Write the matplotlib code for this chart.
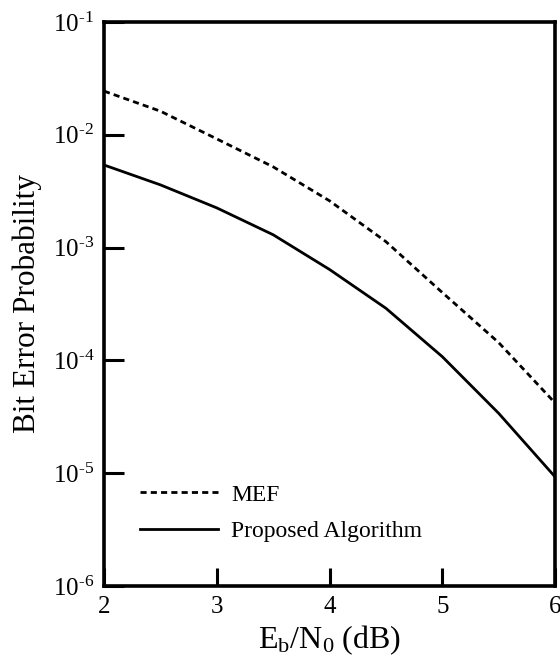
import matplotlib
matplotlib.use("Agg")
import matplotlib.pyplot as plt
from matplotlib.ticker import FixedLocator, FixedFormatter

plt.rcParams['font.family'] = ['Liberation Serif', 'DejaVu Serif']
plt.rcParams['mathtext.fontset'] = 'custom'
plt.rcParams['mathtext.rm'] = 'Liberation Serif'
plt.rcParams['mathtext.it'] = 'Liberation Serif:italic'
plt.rcParams['mathtext.bf'] = 'Liberation Serif:bold'

# Data
ebn0 = [2.0, 2.5, 3.0, 3.5, 4.0, 4.5, 5.0, 5.5, 6.0]
ber_mef = [2.44e-2, 1.62e-2, 9.2e-3, 5.2e-3, 2.6e-3, 1.13e-3, 4.0e-4, 1.44e-4, 4.2e-5]
ber_proposed = [5.4e-3, 3.6e-3, 2.25e-3, 1.3e-3, 6.4e-4, 2.9e-4, 1.08e-4, 3.4e-5, 9.3e-6]

xticks = [2, 3, 4, 5, 6]
xticklabels = ['2', '3', '4', '5', '6']
yticks = [1e-6, 1e-5, 1e-4, 1e-3, 1e-2, 1e-1]
yticklabels = [r'$10^{\text{-6}}$', r'$10^{\text{-5}}$', r'$10^{\text{-4}}$',
               r'$10^{\text{-3}}$', r'$10^{\text{-2}}$', r'$10^{\text{-1}}$']

fig = plt.figure(figsize=(5.6, 6.6), dpi=100)
ax = fig.add_axes([104/560, 1-586/660, 451/560, 564/660])

ax.plot(ebn0, ber_mef, color='black', lw=2.0, linestyle=(0, (2.2, 1.5)), label='MEF')
ax.plot(ebn0, ber_proposed, color='black', lw=2.0, linestyle='-', label='Proposed Algorithm')

ax.set_yscale('log')
ax.set_xlim(2, 6)
ax.set_ylim(1e-6, 1e-1)

ax.xaxis.set_major_locator(FixedLocator(xticks))
ax.xaxis.set_major_formatter(FixedFormatter(xticklabels))
ax.yaxis.set_major_locator(FixedLocator(yticks))
ax.yaxis.set_major_formatter(FixedFormatter(yticklabels))
ax.yaxis.set_minor_locator(FixedLocator([]))
ax.xaxis.set_minor_locator(FixedLocator([]))

ax.tick_params(axis='y', direction='in', length=14.4, width=2.2, labelsize=18, pad=7,
               left=True, right=False)
ax.tick_params(axis='x', direction='in', length=13, width=2.2, labelsize=18, pad=7,
               bottom=True, top=False)

for s in ax.spines.values():
    s.set_linewidth(2.6)

ax.set_xlabel(r'$\mathrm{E_b/N_0}$ (dB)', fontsize=23, labelpad=4)
ax.set_ylabel('Bit Error Probability', fontsize=22.5, labelpad=8)

leg = ax.legend(loc='upper left', bbox_to_anchor=((140-104)/451, (586-484)/564),
                frameon=False, fontsize=17, handlelength=3.3, handletextpad=0.55,
                labelspacing=0.65, borderpad=0, borderaxespad=0)

fig.savefig('out.png', dpi=100)
